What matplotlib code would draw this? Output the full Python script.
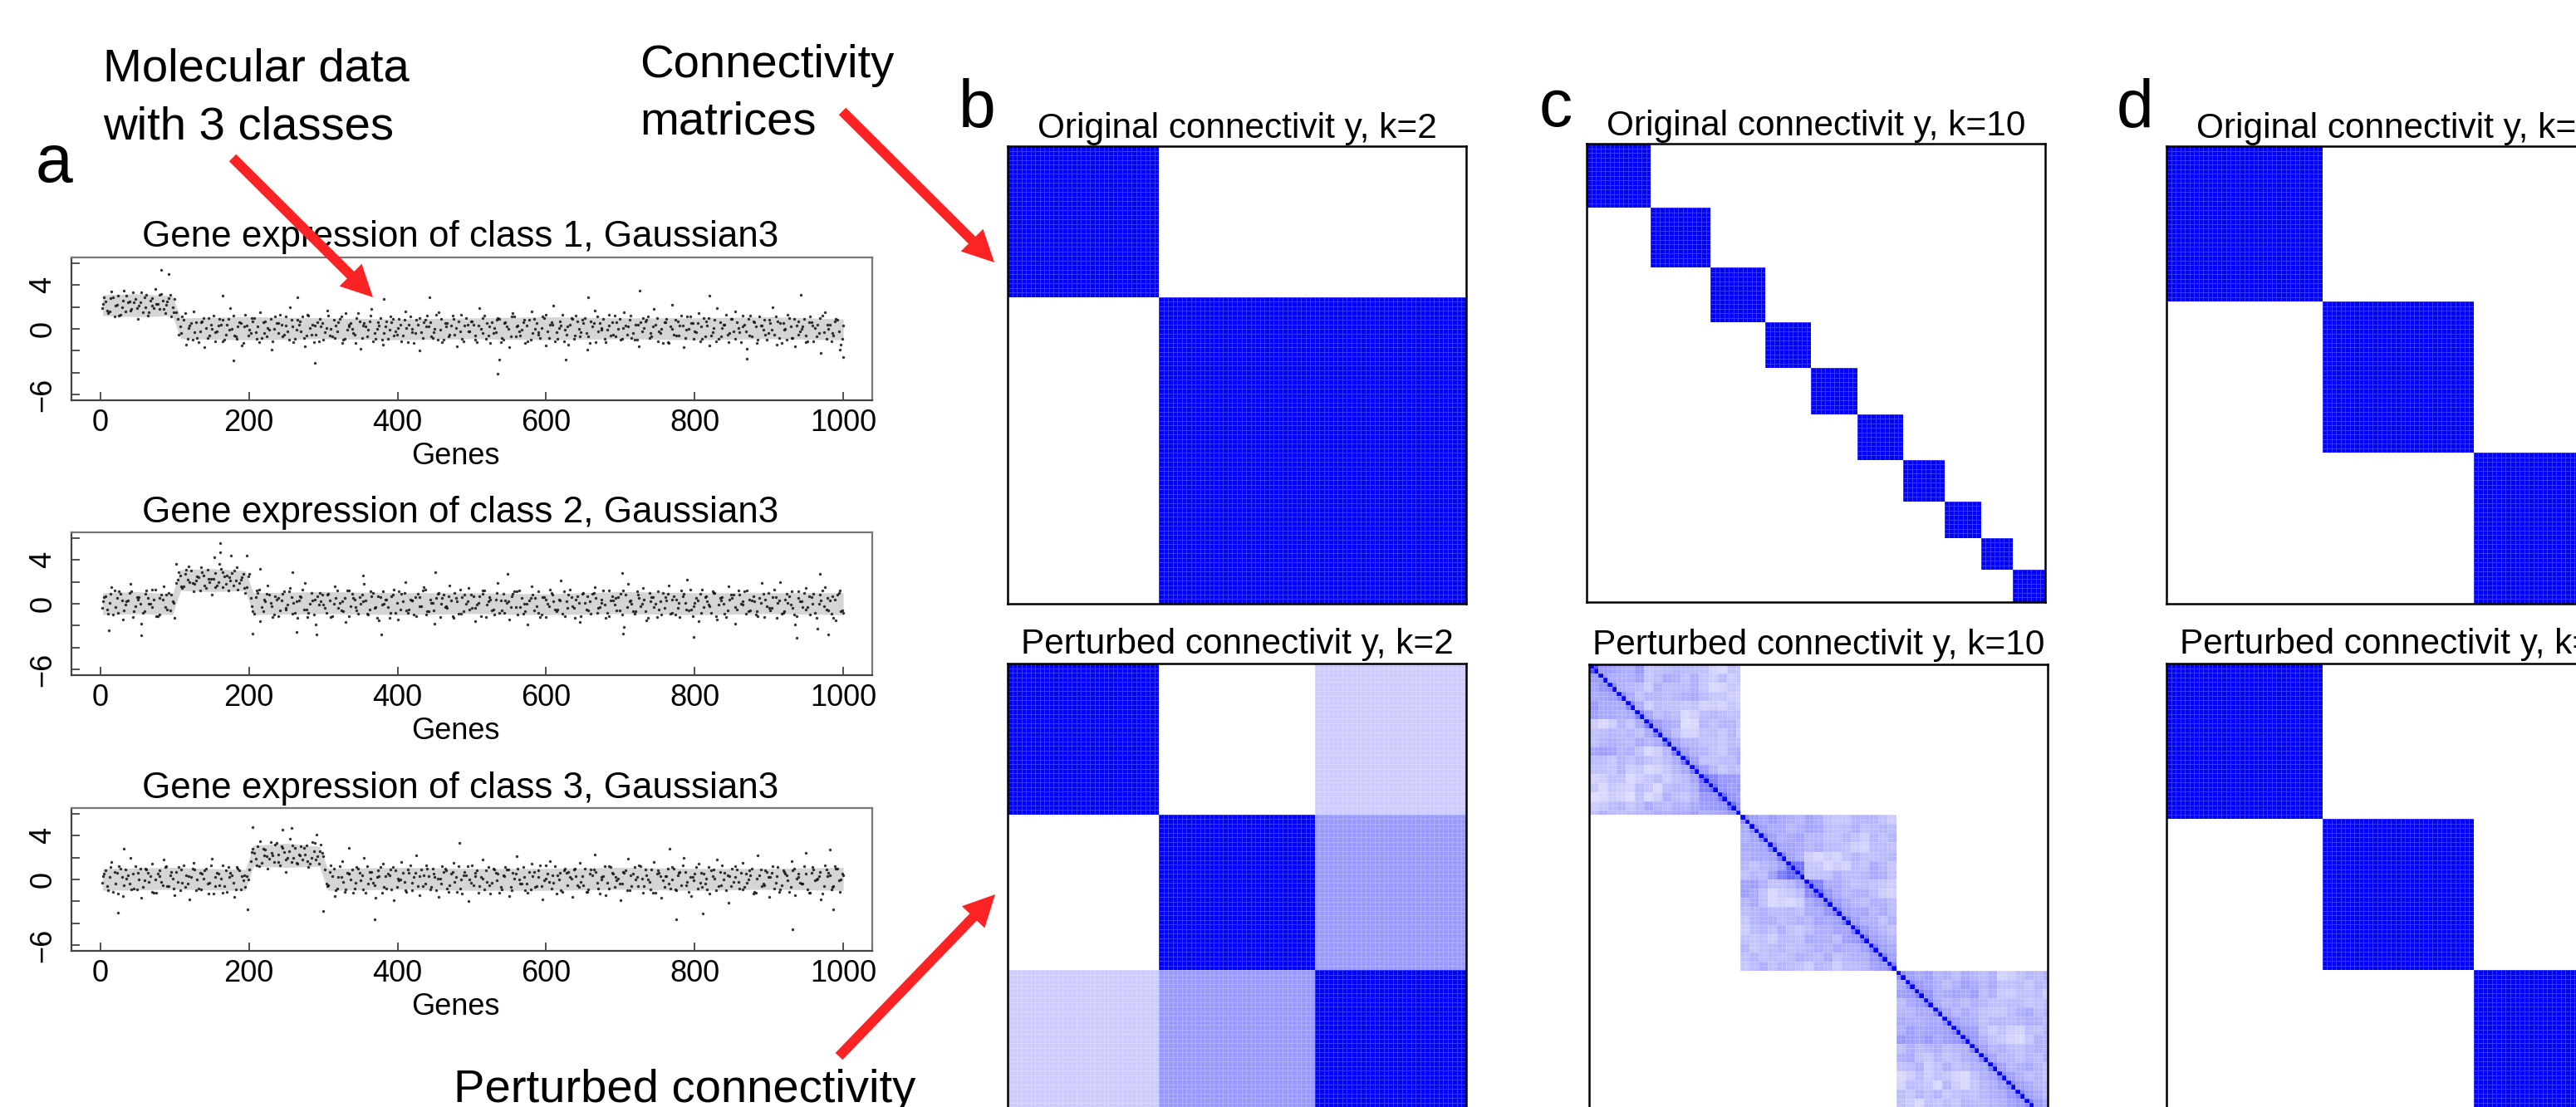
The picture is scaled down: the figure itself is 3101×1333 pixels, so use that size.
"""
Gene expression scatter panels and connectivity matrices
"""

import matplotlib.pyplot as plt
import numpy as np
from matplotlib.colors import LinearSegmentedColormap
from matplotlib.patches import FancyArrow

plt.rcParams['font.family'] = ['Liberation Sans', 'DejaVu Sans']

W, H = 3101, 1333

# expression values, one every 5 genes, three passes per panel
class1_y = [
    2.9, 1.4, 3.4, 2.1, 1.2, 2.6, 3.0, 1.7, 2.4, 0.9, 3.3, 2.0, 1.5, 2.8, 2.3, 3.1, 1.8, 2.5, 1.1, 2.7,
    -0.5, 1.1, -1.4, 0.3, 1.6, -0.8, 0.6, -1.7, 1.0, 0.0, -0.3, 0.9, -1.1, 0.4, 1.9, -0.6, 0.2, -1.5, 1.3, -0.1,
    0.7, -0.9, 1.5, -0.4, 0.1, -1.9, 1.1, 0.5, -0.7, 0.3, 2.0, -1.2, 0.8, -0.2, -1.6, 1.2, 0.4, -0.5, 0.9, -1.0,
    1.7, 0.0, -0.8, 0.6, -1.3, 1.4, 0.2, -0.4, 1.0, -1.8, 0.5, -0.1, 1.8, -0.9, 0.3, -1.4, 0.7, 1.1, -0.6, 0.1,
    -1.1, 1.6, 0.4, -0.3, 0.8, -2.0, 0.6, 1.2, -0.7, 0.0, 1.5, -1.2, 0.2, -0.5, 0.9, -1.6, 1.3, 0.3, -0.2, 0.7,
    -1.0, 1.9, -0.4, 0.5, -1.3, 0.1, 1.0, -0.8, 0.6, -1.7, 1.4, 0.2, -0.6, 0.8, -1.1, 1.6, 0.0, -0.3, 1.1, -1.5,
    0.4, 2.1, -0.9, 0.3, -0.1, -1.4, 0.9, 1.2, -0.7, 0.5, -1.9, 0.7, 1.7, -0.2, 0.1, -1.2, 1.3, -0.5, 0.6, -1.0,
    1.5, 0.2, -0.8, 0.4, -1.6, 1.0, 0.8, -0.4, 1.8, -1.1, 0.0, 0.6, -1.3, 2.2, -0.6, 0.3, -1.7, 1.1, 0.5, -0.2,
    1.4, -0.9, 0.7, -1.5, 0.1, 1.9, -0.7, 0.4, -1.2, 0.9, 1.6, -0.3, 0.2, -1.8, 1.2, 0.6, -1.0, 0.3, -0.5, 0.8,
    2.0, -1.4, 0.5, -0.1, 1.3, -0.8, -1.6, 0.7, 0.2, -0.6, 1.1, -1.1, 0.4, -2.2, 1.5, 0.0, -0.4, 0.9, -1.9, 0.3,
]
class1_y2 = [
    1.9, 2.5, 1.6, 2.9, 2.2, 1.3, 3.5, 2.4, 1.8, 2.7, 2.1, 1.5, 3.1, 2.6, 1.9, 2.3, 3.2, 1.4, 2.8, 2.0,
    1.5, 0.2, 0.8, -0.9, 0.5, -0.3, -1.2, 0.7, 0.1, -0.6, 1.2, -0.2, 0.4, -1.0, 0.9, 0.0, -0.7, 0.6, -1.3, 0.3,
    -0.4, 1.0, 0.2, -0.8, 0.7, -0.1, -1.1, 0.5, 1.3, -0.5, -0.2, 0.8, -0.9, 0.4, 1.1, -0.6, 0.1, -1.2, 0.6, 0.2,
    -0.3, 1.2, -0.7, 0.3, 0.9, -1.0, -0.1, 0.5, -0.5, 1.4, -0.8, 0.2, 0.7, -1.1, 0.0, 1.0, -0.4, -0.9, 0.6, -0.2,
    0.9, -0.6, 0.1, 1.1, -1.3, 0.4, -0.3, 0.8, 0.2, -0.8, 1.3, -0.1, -1.0, 0.5, 0.3, -0.5, 0.7, -0.9, 1.0, -0.2,
    0.4, -1.2, 0.0, 1.2, -0.6, 0.6, -0.3, 0.9, -1.0, 0.2, -0.7, 1.1, 0.3, -0.1, -1.3, 0.8, -0.4, 0.5, -0.8, 1.0,
    -0.2, 0.6, -1.1, 0.1, 1.3, -0.5, 0.4, -0.9, 0.7, -0.3, 1.0, -0.7, 0.2, -1.2, 0.5, 0.9, -0.1, -0.6, 1.2, 0.0,
    -0.9, 0.3, 0.8, -0.4, -1.0, 0.6, 0.1, 1.1, -0.7, 0.4, -0.2, -1.3, 0.9, 0.2, -0.5, 0.7, 1.2, -0.8, 0.0, 0.5,
    -0.3, -1.1, 1.0, 0.3, -0.6, 0.8, -0.9, 0.1, 1.3, -0.4, -0.2, 0.6, -1.2, 0.4, 0.9, -0.7, 0.2, 1.1, -0.1, -1.0,
    0.5, -0.5, 0.7, -1.3, 0.0, 1.0, -0.8, 0.3, -0.2, 0.9, -1.1, 0.6, 0.1, -0.4, 1.2, -0.9, 0.4, -0.6, 0.8, -1.4,
]
class1_y3 = [
    2.3, 1.7, 2.8, 1.1, 3.0, 2.0, 1.6, 2.5, 3.3, 1.9, 2.4, 2.9, 1.2, 2.1, 3.6, 1.8, 2.6, 2.2, 3.1, 1.5,
    0.9, -0.4, 1.4, 0.1, -1.0, 0.6, -0.2, 1.0, -0.8, 0.4, -1.1, 0.3, 0.8, -0.5, -0.1, 1.2, -0.9, 0.5, 0.2, -0.6,
    1.0, -0.3, -1.2, 0.6, -0.7, 0.9, 0.0, -0.4, 0.4, 1.1, -1.0, 0.2, -0.1, 0.7, -0.8, 1.3, -0.5, 0.3, -1.1, 0.5,
    0.1, -0.6, 0.8, -0.2, 1.1, -0.9, 0.4, 0.0, -1.3, 0.7, 0.3, -0.7, 1.2, -0.4, 0.6, -1.0, 0.2, -0.1, 0.9, -0.5,
    0.4, 0.8, -1.2, 0.0, -0.4, 1.0, -0.8, 0.2, 0.6, -0.3, -1.0, 0.9, 0.5, -0.7, 1.2, 0.1, -0.2, -1.1, 0.4, 0.7,
    -0.6, 0.3, 1.0, -0.9, 0.2, -0.4, 0.8, -1.2, 0.5, 0.0, 1.1, -0.7, -0.2, 0.6, 0.3, -1.0, 0.9, -0.5, 0.1, 1.3,
    -0.8, 0.4, -0.3, 0.7, -1.1, 0.2, 1.0, -0.6, 0.0, 0.8, -0.4, -1.3, 0.5, 1.1, -0.1, -0.9, 0.3, 0.6, -0.7, 0.9,
    0.1, -0.5, 1.2, -1.0, 0.4, -0.2, 0.7, -0.8, 0.2, 1.0, -0.4, 0.6, -1.2, 0.0, 0.8, -0.6, 0.3, -0.1, 1.1, -0.9,
    0.5, 0.2, -0.7, 1.0, -0.3, -1.1, 0.6, 0.4, -0.5, 0.9, -0.9, 0.1, 1.2, -0.2, -0.6, 0.7, -1.3, 0.3, 0.8, -0.4,
    -0.1, 1.1, -0.8, 0.5, -1.0, 0.2, 0.9, -0.5, 0.0, -1.2, 0.6, 0.3, -0.7, 1.0, -0.3, 0.4, -1.1, 0.7, -0.2, -0.9,
]
class2_y = [
    0.6, -0.9, 1.5, -0.3, 1.1, -1.4, 0.2, 1.8, -0.7, 0.4, -1.8, 0.9, 0.0, 1.3, -1.1, 0.5, 1.6, -0.5, 0.8, -1.3,
    2.9, 1.4, 3.1, 2.0, 1.1, 2.5, 3.3, 1.7, 2.3, 0.8, 2.8, 3.6, 1.5, 2.6, 2.1, 3.0, 1.3, 2.4, 1.0, 2.7,
    -0.7, 1.2, -1.6, 0.4, 1.7, -0.2, 0.7, -1.1, 0.9, -0.5, 1.4, 0.1, -1.3, 0.6, 1.9, -0.8, 0.3, -1.9, 1.0, -0.1,
    0.8, -1.2, 1.6, -0.4, 0.2, -1.7, 1.2, 0.5, -0.6, 0.0, 1.8, -1.0, 0.7, -0.3, -1.5, 1.1, 0.4, -0.8, 1.3, -1.4,
    0.9, 2.0, -0.5, 0.3, -1.1, 0.6, 1.5, -0.7, 0.1, -1.8, 1.0, 0.5, -0.2, 1.7, -1.3, 0.2, -0.9, 0.8, 1.4, -0.4,
    -1.6, 0.7, 1.2, -0.1, 0.4, -1.0, 1.9, -0.6, 0.3, -1.4, 0.9, 1.1, -0.3, 0.0, -1.9, 1.6, 0.5, -0.8, 0.6, -1.2,
    1.3, 0.2, -0.5, 2.1, -1.1, 0.8, -0.2, 0.4, -1.7, 1.0, 0.7, -0.9, 1.5, -0.4, 0.1, -1.3, 1.2, 0.3, -0.6, 0.9,
    -2.1, 1.8, 0.0, -0.7, 0.5, 1.4, -1.5, 0.2, -0.3, 1.1, -1.0, 0.6, 1.7, -0.8, 0.4, -1.2, 0.9, 2.2, -0.5, 0.1,
    -1.6, 1.3, 0.7, -0.2, 1.0, -1.4, 0.3, -0.9, 1.6, 0.5, -1.8, 0.8, -0.1, 1.2, -0.6, 0.2, -1.1, 1.9, 0.4, -0.4,
    0.6, -1.3, 2.0, -0.7, 0.1, 1.1, -1.9, 0.5, -0.3, 1.4, -1.0, 0.9, -2.3, 0.3, 1.5, -0.6, 0.7, -1.5, 1.2, -0.8,
]
class2_y2 = [
    -0.4, 0.7, 0.1, -1.0, 0.5, 0.9, -0.6, 0.3, 1.1, -0.2, 0.6, -0.8, 1.2, 0.0, 0.4, -1.1, 0.8, -0.3, 1.0, 0.2,
    1.9, 2.6, 1.6, 2.2, 3.0, 1.8, 2.4, 2.9, 1.4, 2.0, 2.3, 1.7, 3.2, 2.5, 1.2, 2.8, 2.1, 1.9, 2.7, 1.5,
    0.5, -0.9, 1.0, -0.3, 0.2, 0.8, -1.2, 0.4, -0.6, 1.1, -0.1, 0.6, -0.8, 0.3, 1.3, -0.5, 0.0, -1.0, 0.7, 0.2,
    -0.4, 0.9, -1.1, 0.5, 0.1, -0.7, 1.2, -0.2, 0.4, -0.9, 0.8, 0.3, -0.5, 1.0, -1.3, 0.6, 0.0, -0.3, 0.7, -0.8,
    1.1, 0.2, -0.6, 0.4, -1.0, 0.9, -0.2, 1.3, -0.7, 0.1, 0.5, -1.2, 0.8, -0.4, 0.3, 1.0, -0.9, 0.6, 0.0, -0.5,
    0.7, -0.1, -1.1, 1.2, 0.2, -0.6, 0.4, -0.8, 0.9, 0.1, -0.3, 1.1, -1.0, 0.5, -0.7, 0.3, 0.8, -0.2, -1.2, 0.6,
    0.0, 1.0, -0.5, 0.4, -0.9, 0.2, 1.3, -0.4, 0.7, -1.1, 0.1, -0.6, 0.9, 0.5, -0.3, 1.2, -0.8, 0.3, -0.1, 0.6,
    -1.0, 0.8, 0.2, -0.7, 1.1, -0.2, 0.4, -1.3, 0.6, 0.0, -0.5, 1.0, 0.3, -0.9, 0.7, -0.4, 1.2, 0.1, -0.6, -1.1,
    0.5, 0.9, -0.3, 0.2, -0.8, 1.0, -0.1, 0.6, -1.2, 0.4, 0.8, -0.5, 0.0, 1.1, -0.7, 0.3, -1.0, 0.5, 0.9, -0.2,
    -0.6, 1.3, 0.1, -0.9, 0.4, 0.7, -0.4, -1.1, 0.2, 1.0, -0.3, 0.6, -0.8, 0.0, 1.2, -0.5, 0.3, -1.3, 0.8, -0.7,
]
class2_y3 = [
    0.2, -0.5, 0.9, 1.2, -0.8, 0.3, -0.1, 1.0, -1.2, 0.6, 0.0, -0.7, 0.5, -0.3, 1.3, -1.0, 0.4, 0.8, -0.6, 0.1,
    2.2, 1.6, 2.7, 3.4, 1.9, 2.1, 1.2, 2.6, 3.1, 2.3, 1.5, 2.0, 2.9, 1.8, 2.4, 1.7, 3.3, 2.2, 1.4, 2.5,
    -0.2, 0.6, 1.3, -0.7, 0.9, 0.1, -1.0, 0.5, 0.3, -0.4, 1.1, -0.9, 0.2, 0.7, -0.5, -1.2, 1.0, 0.4, -0.1, 0.8,
    -0.8, 0.3, 0.0, 1.2, -0.6, 0.5, -1.1, 0.9, -0.3, 0.6, 0.2, -0.9, 1.1, -0.4, 0.7, -0.1, 0.4, -1.3, 0.8, 0.1,
    -0.5, 1.0, -0.8, 0.3, 0.6, -0.2, 1.2, -1.0, 0.4, -0.6, 0.9, 0.0, -0.3, 0.7, -1.1, 0.5, 1.3, -0.7, 0.2, 0.8,
    -0.4, 0.1, 0.9, -1.2, 0.6, -0.5, 1.0, 0.3, -0.8, 0.2, 0.7, -0.3, 1.2, -0.9, 0.0, 0.5, -0.6, 1.1, -1.0, 0.4,
    -0.2, 0.8, -0.7, 0.3, 1.1, -0.4, 0.6, -1.3, 0.1, 0.9, -0.5, 0.2, 1.0, -0.8, 0.4, -0.1, -1.1, 0.7, 0.5, -0.6,
    1.2, -0.3, 0.3, -0.9, 0.8, 0.0, -0.7, 1.0, 0.6, -1.2, 0.2, -0.4, 0.9, 0.4, -1.0, 0.1, 0.7, -0.5, 1.3, -0.2,
    0.3, -0.8, 0.6, -0.1, 1.1, -1.1, 0.5, 0.0, -0.6, 0.8, -0.3, 1.2, 0.2, -0.9, 0.4, 0.7, -0.7, 0.1, -1.2, 1.0,
    -0.4, 0.6, 0.3, -0.8, 0.9, -0.1, -1.0, 1.1, 0.2, -0.5, 0.7, 0.0, -1.3, 0.8, -0.2, 0.5, -0.9, 0.4, 1.0, -0.6,
]
class3_y = [
    0.5, -1.0, 1.6, -0.4, 1.2, -1.5, 0.1, 2.0, -0.8, 0.6, -1.7, 1.0, -0.2, 1.4, -1.2, 0.3, 1.8, -0.6, 0.7, -1.4,
    1.1, -0.3, 0.4, -1.8, 1.5, 0.0, -0.9, 0.8, -1.3, 1.9, 0.2, -0.5, 1.3, -1.1, 0.6, -1.6, 1.0, 0.3, -0.7, 0.9,
    2.8, 1.3, 3.5, 2.2, 1.0, 2.4, 3.2, 1.6, 2.9, 0.7, 3.7, 2.0, 1.4, 3.0, 2.3, 1.1, 3.4, 1.8, 2.6, 2.1,
    -0.6, 1.3, -1.5, 0.2, 1.7, -0.9, 0.5, -1.2, 1.1, -0.1, 2.0, -0.4, 0.7, -1.7, 0.3, 1.4, -0.8, 0.9, -1.9, 0.1,
    1.6, -1.0, 0.6, -0.3, 2.2, -1.4, 0.4, 1.0, -0.7, 0.2, -1.6, 1.2, 0.8, -0.5, 1.5, -1.1, 0.0, 0.7, -2.0, 1.3,
    0.3, -0.6, 1.8, -0.2, -1.3, 0.9, 0.5, -0.9, 1.1, -1.5, 0.6, 2.1, -0.4, 0.2, -1.2, 1.4, -0.7, 0.8, -1.8, 0.1,
    1.7, -0.3, 0.4, -1.0, 1.0, 0.7, -1.6, 0.3, 1.5, -0.5, -1.1, 0.9, 2.3, -0.8, 0.2, -1.4, 1.2, 0.5, -0.1, -1.9,
    0.6, 1.9, -0.6, 0.0, 1.3, -1.2, 0.4, -0.9, 1.6, 0.8, -1.7, 0.3, -0.4, 1.1, -1.0, 0.7, 2.0, -0.2, -1.5, 0.5,
    1.4, -0.7, 0.1, -1.3, 0.9, 1.8, -0.5, 0.6, -2.1, 1.0, 0.2, -0.8, 1.5, -0.3, 0.4, -1.1, 2.2, -0.6, 0.8, -1.6,
    1.2, 0.3, -0.9, 0.7, -0.1, 1.7, -1.4, 0.5, -0.4, 2.4, -1.2, 0.9, 0.1, -1.8, 1.3, 0.6, -0.7, 1.0, -1.1, 0.4,
]
class3_y2 = [
    -0.3, 0.8, 0.2, -1.1, 0.6, 1.0, -0.5, 0.4, -0.9, 1.2, 0.0, -0.7, 0.9, 0.3, -1.2, 0.5, -0.2, 1.1, -0.6, 0.1,
    0.7, -1.0, 1.3, -0.4, 0.2, 0.9, -0.8, 0.5, 1.0, -0.3, -1.3, 0.6, 0.1, -0.6, 1.1, 0.4, -0.9, 0.8, -0.1, 0.3,
    1.7, 2.4, 3.0, 1.5, 2.7, 1.9, 2.2, 3.3, 1.3, 2.5, 2.0, 1.6, 2.9, 2.3, 1.8, 3.1, 1.4, 2.6, 2.1, 3.2,
    0.9, -0.5, 0.3, -1.0, 1.2, -0.2, 0.6, 0.0, -0.8, 1.0, 0.4, -1.2, 0.7, -0.3, 0.2, 1.1, -0.7, 0.5, -0.9, 0.8,
    -0.1, 0.6, -1.1, 1.3, 0.2, -0.6, 0.9, -0.4, 0.3, 1.0, -1.0, 0.1, 0.7, -0.8, 0.5, -0.2, 1.2, -1.3, 0.4, 0.0,
    -0.5, 0.8, 0.2, -0.9, 1.1, -0.3, 0.6, -1.2, 0.4, 0.9, -0.7, 0.1, 1.0, -0.4, -1.0, 0.7, 0.3, -0.6, 1.3, -0.1,
    0.5, -0.8, 1.2, 0.0, -1.1, 0.6, 0.2, 0.9, -0.5, -0.2, 1.0, -0.9, 0.4, 0.7, -1.3, 0.3, -0.3, 1.1, -0.7, 0.1,
    -0.4, 0.8, -1.0, 0.5, 0.2, 1.2, -0.6, 0.0, 0.9, -1.2, 0.6, -0.1, 0.3, -0.8, 1.0, 0.4, -0.5, 0.7, -1.1, 0.2,
    1.1, -0.3, 0.5, -0.9, 0.8, 0.1, -0.6, 1.3, -1.0, 0.3, -0.2, 0.9, 0.6, -0.7, 0.0, 1.0, -1.2, 0.4, -0.4, 0.7,
    0.2, -0.8, 1.1, -0.5, 0.5, -1.1, 0.8, 0.1, -0.3, 1.2, -0.9, 0.6, -0.1, 0.3, -1.3, 0.9, 0.4, -0.6, 1.0, 0.0,
]
class3_y3 = [
    0.3, -0.6, 1.1, 0.7, -1.3, 0.2, 0.9, -0.4, 0.5, -0.9, 1.0, -0.1, 0.6, -1.1, 0.0, 0.8, -0.5, 1.2, 0.4, -0.8,
    -0.2, 0.9, -0.7, 0.3, 1.0, -1.0, 0.6, 0.1, -0.4, 1.3, -0.6, 0.5, -1.2, 0.8, 0.2, -0.3, 1.1, -0.9, 0.4, 0.0,
    2.5, 1.9, 1.2, 2.8, 2.1, 3.4, 1.6, 2.3, 3.0, 1.8, 2.6, 3.1, 1.5, 2.2, 2.9, 1.7, 2.0, 3.3, 1.4, 2.4,
    -0.4, 0.7, 1.0, -0.8, 0.2, -1.1, 0.5, 0.9, -0.3, 0.6, -0.9, 1.2, 0.1, -0.5, 0.8, -1.2, 0.3, 0.4, 1.1, -0.7,
    0.0, -0.2, 0.9, -1.0, 0.6, 0.3, -0.6, 1.3, -0.9, 0.5, 0.1, -0.4, 1.0, -1.1, 0.7, 0.2, -0.8, 0.4, 1.2, -0.3,
    0.6, -1.2, 0.1, 0.8, -0.5, 1.0, -0.1, -0.7, 0.3, 0.9, -1.0, 0.5, 0.0, 1.1, -0.4, -0.9, 0.7, 0.2, -0.6, 1.3,
    -0.2, 0.4, -1.3, 0.6, 0.8, -0.5, 0.1, 1.0, -0.7, 0.3, -1.1, 0.5, 0.9, -0.3, 0.0, 1.2, -0.8, 0.6, 0.2, -0.4,
    0.7, -1.0, 0.4, 1.1, -0.6, 0.1, 0.9, -0.2, -1.2, 0.5, 0.3, -0.7, 1.0, 0.0, -0.9, 0.6, 1.3, -0.5, 0.2, -0.1,
    -0.8, 0.6, -0.4, 1.1, 0.3, -1.0, 0.7, 0.0, 0.4, -0.6, 1.2, -0.2, -0.9, 0.5, 0.8, -1.3, 0.1, 0.9, -0.5, 0.2,
    0.6, -0.3, -1.1, 0.8, 0.4, -0.7, 1.0, 0.2, -0.4, 0.5, -1.2, 1.1, 0.0, 0.7, -0.6, 0.3, -0.9, 1.2, -0.1, 0.5,
]

# isolated points clearly readable in the picture
class1_out_x = [82, 92, 535, 726, 943, 820, 657, 289, 179, 537, 626, 870, 1000, 265, 164, 381, 443]
class1_out_y = [5.4, 5.0, -4.1, 3.5, 3.1, 3.0, 2.9, -3.1, -2.9, -2.8, -2.8, -2.7, -2.6, 2.9, 3.0, 2.7, 2.9]
class2_out_x = [161, 161, 197, 176, 153, 102, 258, 215, 451, 548, 702, 969, 353, 55, 291, 205, 937, 980, 799, 378, 703, 264, 11]
class2_out_y = [5.5, 4.7, 4.4, 4.4, 4.2, 3.6, 2.9, 3.2, 2.9, 2.7, 2.8, 2.7, 2.6, -2.9, -2.8, -2.7, -3.1, -2.8, -3.0, -2.8, -2.7, -2.6, -2.4]
class3_out_x = [932, 775, 369, 811, 24, 205, 257, 245, 291, 483, 982, 766, 334, 31, 198, 300, 986]
class3_out_y = [-4.5, -3.6, -3.6, -3.1, -3.0, 4.75, 4.7, 4.55, 4.1, 3.3, 2.7, 2.8, 2.85, 2.8, -2.7, -2.85, -2.7]

# darker core of each cloud, as seen through the dots
class1_core_x = [3, 50, 97, 108, 200, 300, 400, 500, 600, 700, 800, 900, 1000]
class1_core_lo = [1.2, 1.1, 1.2, -0.9, -1.0, -0.9, -1.0, -0.9, -1.0, -0.9, -1.0, -0.9, -1.0]
class1_core_hi = [3.1, 3.2, 3.0, 1.0, 1.1, 1.0, 0.9, 1.0, 1.1, 1.0, 1.0, 1.1, 0.9]
class2_core_x = [3, 50, 97, 108, 150, 195, 206, 300, 400, 500, 600, 700, 800, 900, 1000]
class2_core_lo = [-1.0, -0.9, -1.0, 1.2, 1.1, 1.2, -1.0, -0.9, -1.0, -0.9, -1.0, -0.9, -1.0, -0.9, -1.0]
class2_core_hi = [1.0, 1.1, 0.9, 3.1, 3.2, 3.0, 1.0, 1.1, 1.0, 1.0, 0.9, 1.1, 1.0, 1.0, 1.0]
class3_core_x = [3, 100, 195, 206, 250, 295, 306, 400, 500, 600, 700, 800, 900, 1000]
class3_core_lo = [-1.0, -0.9, -1.0, 1.2, 1.1, 1.2, -1.0, -0.9, -1.0, -1.0, -0.9, -1.0, -0.9, -1.0]
class3_core_hi = [1.0, 1.1, 0.9, 3.1, 3.3, 3.0, 1.0, 1.1, 1.0, 1.0, 1.1, 1.0, 1.0, 1.1]

gene_ticks = [0, 200, 400, 600, 800, 1000]
expr_ticks = [-6, -4, -2, 0, 2, 4, 6]
expr_labels = ['\u22126', '', '', '0', '', '4', '']

# cluster sizes of the connectivity matrices (100 samples)
sizes_k2 = [33, 67]
sizes_k10 = [14, 13, 12, 10, 10, 10, 9, 8, 7, 7]
sizes_k3 = [34, 33, 33]
sizes_pert = [33, 34, 33]

# block means of the perturbed k=2 matrix
pert_k2_blocks = [[1.0, 0.0, 0.2], [0.0, 1.0, 0.4], [0.2, 0.4, 1.0]]

# perturbed k=10 matrix: percent connectivity per 2x2 samples, read from each block
pert_k10_a = [
    [60, 35, 33, 30, 28, 36, 20, 22, 24, 26, 24, 24, 22, 16, 14, 22, 20],
    [35, 36, 30, 28, 28, 33, 20, 24, 30, 28, 22, 28, 20, 18, 24, 18, 20],
    [32, 38, 40, 28, 26, 24, 18, 28, 24, 24, 24, 28, 20, 14, 16, 20, 18],
    [30, 32, 34, 42, 30, 22, 26, 26, 24, 26, 28, 30, 24, 20, 20, 18, 16],
    [36, 30, 30, 30, 42, 30, 18, 24, 22, 22, 20, 22, 16, 18, 16, 20, 18],
    [34, 30, 30, 28, 30, 44, 32, 24, 26, 24, 14, 18, 24, 26, 24, 22, 22],
    [18, 14, 18, 26, 20, 30, 46, 36, 30, 28, 12, 14, 26, 22, 26, 26, 20],
    [22, 24, 26, 24, 26, 22, 30, 44, 32, 24, 16, 16, 22, 24, 20, 26, 18],
    [22, 26, 28, 26, 24, 30, 26, 30, 46, 34, 26, 26, 22, 22, 20, 24, 22],
    [32, 34, 32, 26, 28, 22, 14, 18, 26, 44, 34, 28, 26, 22, 20, 26, 28],
    [24, 24, 20, 26, 22, 26, 22, 20, 24, 30, 46, 34, 22, 22, 24, 24, 30],
    [22, 22, 20, 26, 18, 20, 14, 16, 20, 26, 30, 46, 34, 26, 20, 24, 22],
    [16, 18, 22, 22, 14, 18, 20, 24, 18, 22, 24, 32, 50, 44, 36, 36, 34],
    [20, 14, 20, 18, 16, 24, 20, 14, 24, 26, 24, 28, 44, 50, 38, 34, 36],
    [12, 14, 18, 16, 12, 22, 14, 18, 28, 24, 20, 26, 36, 38, 50, 38, 34],
    [18, 20, 24, 26, 20, 24, 30, 26, 24, 28, 26, 30, 34, 36, 38, 52, 40],
    [22, 28, 24, 22, 24, 26, 26, 30, 28, 30, 30, 34, 28, 30, 32, 38, 56],
]
pert_k10_b = [
    [40, 34, 30, 34, 30, 28, 26, 32, 28, 22, 20, 20, 26, 26, 26, 22, 18],
    [30, 40, 34, 30, 30, 26, 28, 32, 30, 24, 22, 24, 28, 22, 24, 26, 24],
    [28, 32, 42, 34, 28, 30, 32, 26, 26, 22, 22, 26, 22, 18, 26, 22, 26],
    [30, 30, 32, 44, 32, 32, 30, 26, 28, 24, 24, 22, 18, 16, 24, 24, 22],
    [28, 30, 30, 32, 46, 34, 28, 18, 14, 18, 16, 22, 26, 22, 22, 24, 26],
    [26, 22, 26, 28, 34, 52, 50, 20, 20, 14, 18, 16, 24, 22, 30, 26, 20],
    [22, 26, 24, 34, 46, 54, 48, 22, 22, 22, 28, 24, 24, 26, 30, 28, 22],
    [32, 34, 28, 22, 22, 26, 32, 50, 44, 30, 30, 26, 22, 24, 22, 20, 18],
    [34, 30, 22, 14, 18, 20, 24, 42, 52, 38, 30, 26, 28, 28, 24, 18, 16],
    [26, 30, 22, 14, 16, 14, 18, 30, 36, 46, 36, 30, 26, 24, 28, 28, 24],
    [24, 26, 28, 24, 24, 26, 22, 30, 30, 38, 46, 34, 30, 32, 26, 30, 24],
    [20, 26, 28, 28, 24, 26, 28, 26, 32, 30, 34, 46, 34, 28, 28, 22, 28],
    [18, 24, 26, 22, 28, 22, 20, 24, 28, 28, 32, 32, 46, 36, 30, 26, 22],
    [22, 20, 22, 18, 24, 24, 22, 30, 28, 28, 24, 34, 36, 46, 34, 30, 26],
    [26, 20, 22, 24, 26, 22, 24, 26, 28, 26, 30, 28, 28, 34, 44, 34, 30],
    [22, 26, 22, 24, 22, 24, 28, 26, 24, 30, 22, 26, 28, 28, 36, 44, 34],
    [20, 24, 28, 22, 26, 24, 22, 18, 26, 24, 18, 24, 24, 26, 32, 36, 44],
]
pert_k10_c = [
    [40, 34, 30, 34, 26, 28, 24, 30, 26, 24, 28, 16, 18, 22, 26, 24, 28],
    [30, 42, 36, 32, 28, 24, 28, 34, 30, 26, 30, 22, 22, 24, 20, 26, 24],
    [34, 36, 44, 38, 28, 30, 32, 30, 34, 24, 28, 20, 18, 22, 22, 24, 18],
    [24, 30, 34, 42, 30, 26, 28, 24, 28, 26, 22, 22, 24, 24, 20, 22, 24],
    [26, 26, 30, 30, 40, 32, 26, 30, 26, 22, 20, 20, 24, 28, 30, 24, 26],
    [30, 28, 28, 30, 30, 40, 34, 30, 28, 22, 26, 26, 24, 26, 28, 28, 24],
    [28, 34, 30, 32, 32, 34, 42, 36, 34, 24, 18, 22, 18, 16, 24, 22, 26],
    [36, 34, 32, 36, 30, 34, 36, 44, 36, 28, 22, 20, 16, 14, 20, 28, 26],
    [22, 28, 24, 26, 28, 24, 26, 28, 40, 34, 26, 28, 24, 22, 26, 28, 26],
    [28, 30, 22, 20, 26, 22, 24, 28, 30, 42, 32, 26, 26, 22, 26, 24, 28],
    [22, 24, 28, 18, 22, 28, 22, 24, 28, 30, 44, 34, 26, 28, 30, 26, 22],
    [14, 18, 24, 18, 22, 20, 16, 14, 22, 28, 32, 42, 34, 28, 24, 26, 20],
    [16, 24, 22, 20, 14, 26, 18, 14, 20, 26, 28, 34, 42, 34, 30, 26, 24],
    [24, 20, 26, 22, 26, 20, 22, 24, 22, 26, 28, 30, 36, 44, 34, 30, 24],
    [22, 18, 14, 22, 20, 24, 20, 26, 24, 24, 26, 28, 32, 36, 44, 36, 30],
    [26, 24, 26, 24, 22, 26, 24, 26, 28, 22, 24, 26, 30, 32, 38, 46, 34],
    [28, 26, 24, 26, 24, 28, 26, 24, 24, 26, 24, 26, 28, 30, 32, 36, 44],
]

BLUES = LinearSegmentedColormap.from_list('conn', ['#ffffff', '#0000ff'])
RED = '#fb2323'
DOT = '#111111'


def px_axes(fig, left, top, right, bottom):
    """Axes placed by pixel edges of the reference."""
    return fig.add_axes([left / W, 1 - bottom / H, (right - left) / W, (bottom - top) / H])


def blocks_from_sizes(sizes):
    m = np.zeros((sum(sizes), sum(sizes)))
    start = 0
    for s in sizes:
        m[start : start + s, start : start + s] = 1.0
        start += s
    return m


def pert_k2_matrix():
    return np.block(
        [[np.full((a, b), pert_k2_blocks[i][j]) for j, b in enumerate(sizes_pert)] for i, a in enumerate(sizes_pert)]
    )


def pert_k10_matrix():
    m = np.zeros((sum(sizes_pert), sum(sizes_pert)))
    start = 0
    for grid, s in zip([pert_k10_a, pert_k10_b, pert_k10_c], sizes_pert):
        fine = np.repeat(np.repeat(np.array(grid) / 100 * 1.12, 2, axis=0), 2, axis=1)[:s, :s]
        np.fill_diagonal(fine, 1.0)
        m[start : start + s, start : start + s] = fine
        start += s
    return m


def draw_expression(fig, top, title, passes, out_x, out_y, core):
    ax = px_axes(fig, 86, top, 1050, top + 172)
    ax.fill_between(core[0], core[1], core[2], color='#777777', alpha=0.3, lw=0)
    for offset, y in zip([5, 2, 4], passes):
        ax.scatter(offset + 5 * np.arange(len(y)), y, s=6, color=DOT, linewidths=0, alpha=0.85)
    ax.scatter(out_x, out_y, s=6, color=DOT, linewidths=0, alpha=0.85)
    ax.set_xlim(-39, 1039)
    ax.set_ylim(-6.5, 6.5)
    ax.set_xticks(gene_ticks)
    ax.set_yticks(expr_ticks, expr_labels, rotation=90, va='center')
    ax.tick_params(direction='in', length=7.4, width=1.2, labelsize=26, color='#333333')
    ax.tick_params(axis='x', pad=7)
    ax.tick_params(axis='y', pad=12)
    ax.set_xlabel('Genes', fontsize=26, labelpad=3.5, x=0.48)
    ax.set_title(title, fontsize=31.7, pad=9, x=0.486)
    for side, sp in ax.spines.items():
        sp.set_linewidth(1.6)
        sp.set_color('#444444' if side in ('left', 'bottom') else '#777777')


def draw_matrix(fig, box, title, matrix, title_pad=7):
    ax = px_axes(fig, *box)
    n = matrix.shape[0]
    ax.pcolormesh(
        np.arange(n + 1),
        np.arange(n + 1),
        matrix,
        cmap=BLUES,
        vmin=0,
        vmax=1,
        edgecolors=(1, 1, 1, 0.22),
        linewidth=0.5,
    )
    ax.set_xlim(0, n)
    ax.set_ylim(n, 0)
    ax.set_xticks([])
    ax.set_yticks([])
    ax.set_title(title, fontsize=30.5, pad=title_pad)
    for sp in ax.spines.values():
        sp.set_linewidth(1.8)
        sp.set_color('black')


def draw_overlay(fig):
    over = fig.add_axes([0, 0, 1, 1], zorder=10)
    over.set_xlim(0, W)
    over.set_ylim(H, 0)
    over.axis('off')
    for x, y, s in [(124, 97, 'Molecular data'), (124, 167, 'with 3 classes'), (770, 93, 'Connectivity'),
                    (770, 162, 'matrices'), (546, 1327, 'Perturbed connectivity')]:
        over.text(x, y, s, fontsize=40.5, va='baseline')
    for x, y, s in [(43, 219, 'a'), (1154, 153, 'b'), (1853, 152, 'c'), (2548, 153, 'd')]:
        over.text(x, y, s, fontsize=58, va='baseline')
    for x0, y0, x1, y1 in [(280, 190, 449, 358), (1014, 134, 1197, 316), (1010, 1272, 1198, 1077)]:
        over.add_patch(
            FancyArrow(
                x0, y0, x1 - x0, y1 - y0, width=12, head_width=38, head_length=38,
                length_includes_head=True, color=RED, lw=0,
            )
        )


def main():
    fig = plt.figure(figsize=(W / 100, H / 100), dpi=100, facecolor='white')

    draw_expression(fig, 310, 'Gene expression of class 1, Gaussian3', [class1_y, class1_y2, class1_y3],
                    class1_out_x, class1_out_y, (class1_core_x, class1_core_lo, class1_core_hi))
    draw_expression(fig, 641, 'Gene expression of class 2, Gaussian3', [class2_y, class2_y2, class2_y3],
                    class2_out_x, class2_out_y, (class2_core_x, class2_core_lo, class2_core_hi))
    draw_expression(fig, 973, 'Gene expression of class 3, Gaussian3', [class3_y, class3_y2, class3_y3],
                    class3_out_x, class3_out_y, (class3_core_x, class3_core_lo, class3_core_hi))

    draw_matrix(fig, (1213, 176, 1765, 727), 'Original connectivit y, k=2', blocks_from_sizes(sizes_k2))
    draw_matrix(fig, (1213, 799, 1765, 1350), 'Perturbed connectivit y, k=2', pert_k2_matrix(), title_pad=8.6)
    draw_matrix(fig, (1910, 173, 2462, 725), 'Original connectivit y, k=10', blocks_from_sizes(sizes_k10))
    draw_matrix(fig, (1913, 800, 2465, 1350), 'Perturbed connectivit y, k=10', pert_k10_matrix(), title_pad=8.6)
    draw_matrix(fig, (2608, 176, 3160, 727), 'Original connectivit y, k=3', blocks_from_sizes(sizes_k3))
    draw_matrix(fig, (2608, 799, 3160, 1350), 'Perturbed connectivit y, k=3', blocks_from_sizes(sizes_k3), title_pad=8.6)

    draw_overlay(fig)
    fig.savefig('out.png', dpi=100)
    plt.close(fig)


if __name__ == '__main__':
    main()
